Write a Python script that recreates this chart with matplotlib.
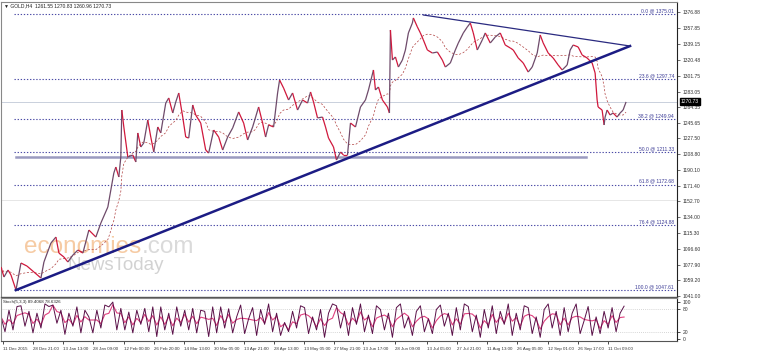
import numpy as np
import pandas as pd
import matplotlib
matplotlib.use("Agg")
import matplotlib.pyplot as plt
from matplotlib.collections import LineCollection

# ---------------- data ----------------
bars = [0, 3, 7, 10, 15, 20, 26, 33, 40, 43, 50, 55, 58, 63, 67, 72, 77, 82, 88, 95,
        100, 107, 110, 113, 115, 118, 120, 121, 123, 127, 132, 135, 137, 140, 143, 147, 150, 153, 157, 160,
        165, 168, 172, 175, 178, 182, 185, 188, 192, 195, 200, 205, 208, 213, 218, 222, 227, 232, 238, 243,
        247, 252, 255, 258, 262, 265, 268, 273, 277, 279, 283, 288, 292, 297, 302, 307, 310, 313, 317, 322,
        325, 328, 333, 336, 340, 343, 347, 350, 355, 360, 365, 368, 373, 375, 378, 382, 387, 389, 390, 392,
        395, 398, 402, 405, 408, 412, 413, 417, 420, 423, 427, 432, 437, 442, 445, 450, 455, 458, 463, 467,
        470, 473, 477, 482, 485, 490, 495, 500, 505, 510, 513, 518, 523, 528, 532, 537, 540, 543, 548, 553,
        558, 562, 567, 570, 573, 578, 582, 587, 592, 595, 597, 598, 602, 604, 605, 607, 610, 613, 617, 620,
        623, 626]
close = [1074.9, 1063.1, 1071.4, 1065.5, 1047.7, 1079.7, 1076.1, 1069.0, 1061.9, 1080.9,
         1103.4, 1110.5, 1091.5, 1086.8, 1080.9, 1089.2, 1095.1, 1091.5, 1118.8, 1110.5,
         1127.1, 1146.1, 1166.3, 1186.4, 1193.5, 1181.7, 1205.4, 1261.1, 1241.0, 1205.4,
         1207.8, 1199.5, 1233.9, 1217.3, 1222.0, 1249.3, 1229.1, 1211.3, 1241.0, 1234.0,
         1269.4, 1275.4, 1257.6, 1270.6, 1281.3, 1252.8, 1229.1, 1227.9, 1267.1, 1255.2,
         1245.7, 1213.7, 1210.1, 1237.4, 1229.1, 1213.7, 1229.1, 1239.8, 1258.8, 1245.7,
         1225.6, 1241.0, 1252.8, 1264.7, 1245.7, 1229.1, 1243.4, 1241.0, 1281.3, 1296.7,
         1287.2, 1273.0, 1281.3, 1261.1, 1273.0, 1269.4, 1282.5, 1270.6, 1251.7, 1252.8,
         1241.0, 1227.9, 1217.3, 1201.8, 1211.3, 1207.8, 1207.8, 1245.7, 1241.0, 1264.7,
         1273.0, 1284.9, 1308.6, 1284.9, 1288.4, 1273.0, 1264.7, 1257.6, 1356.0, 1320.4,
         1324.0, 1312.1, 1320.4, 1332.3, 1352.5, 1364.3, 1370.3, 1359.6, 1352.5, 1344.2,
         1332.3, 1328.7, 1329.9, 1320.4, 1312.1, 1316.9, 1332.3, 1340.6, 1352.5, 1359.6,
         1364.3, 1352.5, 1332.3, 1344.2, 1352.5, 1340.6, 1347.7, 1352.5, 1338.2, 1334.7,
         1332.3, 1322.8, 1316.9, 1306.2, 1312.1, 1328.7, 1350.1, 1340.6, 1328.7, 1322.8,
         1314.5, 1308.6, 1314.5, 1332.3, 1338.2, 1335.9, 1326.4, 1322.8, 1316.9, 1305.0,
         1273.0, 1264.7, 1261.1, 1243.4, 1252.8, 1261.1, 1255.2, 1257.6, 1252.8, 1257.6,
         1261.1, 1270.7]

stoch_bars = list(range(0, 625, 4))
stoch_main = [60, 20, 78, 25, 88, 90, 35, 75, 17, 70,
              30, 95, 88, 92, 43, 78, 13, 70, 35, 87,
              17, 78, 60, 17, 78, 30, 92, 87, 100, 25,
              83, 25, 73, 17, 78, 40, 83, 20, 87, 7,
              87, 25, 70, 13, 87, 35, 78, 25, 83, 17,
              78, 75, 7, 87, 17, 87, 30, 82, 17, 60,
              92, 15, 55, 85, 10, 80, 40, 95, 20, 70,
              10, 45, 20, 75, 30, 90, 85, 15, 60, 25,
              80, 5, 70, 95, 90, 30, 75, 10, 85, 40,
              95, 20, 65, 15, 90, 80, 25, 70, 5, 85,
              95, 30, 60, 10, 75, 90, 20, 55, 15, 80,
              92, 35, 70, 10, 85, 25, 95, 88, 20, 65,
              5, 80, 30, 90, 15, 75, 40, 95, 10, 70,
              25, 90, 85, 15, 60, 5, 80, 95, 30, 75,
              10, 85, 20, 70, 95, 15, 50, 88, 10, 60,
              15, 75, 30, 85, 20, 70, 89]

xtick_bars = [2, 32, 62, 92, 123, 153, 183, 213, 243, 273, 303, 333, 363, 395, 427,
              457, 487, 517, 548, 578, 608]
xtick_labels = ["11 Dec 2015", "28 Dec 21:00", "13 Jan 13:00", "28 Jan 09:00", "12 Feb 00:00",
                "26 Feb 20:00", "14 Mar 13:00", "30 Mar 05:00", "13 Apr 21:00", "28 Apr 13:00",
                "13 May 05:00", "27 May 21:00", "13 Jun 17:00", "28 Jun 09:00", "13 Jul 05:00",
                "27 Jul 21:00", "11 Aug 13:00", "26 Aug 05:00", "12 Sep 01:00", "26 Sep 17:00",
                "11 Oct 09:00"]
yticks = [1376.88, 1357.85, 1339.15, 1320.48, 1301.75, 1283.05, 1264.35, 1245.65, 1227.50,
          1208.80, 1190.10, 1171.40, 1152.70, 1134.00, 1115.30, 1096.60, 1077.90, 1059.20, 1041.00]
fib_ratios = ["0.0", "23.6", "38.2", "50.0", "61.8", "76.4", "100.0"]
fib_prices = [1375.01, 1297.74, 1249.94, 1211.33, 1172.68, 1124.88, 1047.61]
trend_x = [15, 630]
trend_y = [1047.61, 1337.0]
resist_x = [423, 630]
resist_y = [1373.8, 1337.0]
support_x = [15, 586]
support_price = 1205.4
last_price = 1270.73
title = "\u25bc GOLD,H4  1261.55 1270.83 1260.96 1270.73"
stoch_title = "Stoch(5,3,3) 89.4068 78.6326"

# ---------------- figure ----------------
W, H = 764, 355
fig = plt.figure(figsize=(W / 100, H / 100), dpi=100)
fig.patch.set_facecolor("white")
plt.rcParams["font.family"] = ["Liberation Sans", "DejaVu Sans"]

def fr(x0, y0, x1, y1):
    return [x0 / W, 1 - y1 / H, (x1 - x0) / W, (y1 - y0) / H]

ax = fig.add_axes(fr(1, 2, 677, 297))
ax2 = fig.add_axes(fr(1, 298, 677, 341))

XMAX = 677
YLO, YHI = 1039.4, 1389.2
ax.set_xlim(0, XMAX)
ax.set_ylim(YLO, YHI)

TXT = 3.6

# fib levels
for r, p in zip(fib_ratios, fib_prices):
    ax.plot([13, XMAX], [p, p], ls=(0, (1.2, 1.6)), color="#4b4ba6", lw=0.8, zorder=2)
    ax.text(674, p + 1.0, f"{r} @ {p:.2f}", ha="right", va="bottom", fontsize=TXT,
            color="#3c3c96", zorder=5)

# light horizontal lines
ax.axhline(last_price, color="#c9d0dc", lw=0.7, zorder=1)
ax.axhline(1154.0, color="#e6e6e6", lw=0.7, zorder=1)
ax.plot(support_x, [support_price, support_price], color="#9a9ac0", lw=1.8, zorder=2)

# watermark
ax.text(23, 1091.5, "economies", fontsize=17.5, color="#f6cba4", family="Liberation Sans",
        va="baseline", ha="left", zorder=1)
ax.text(141, 1091.5, ".com", fontsize=17.5, color="#dadada", family="Liberation Sans",
        va="baseline", ha="left", zorder=1)
ax.text(67, 1071.0, "NewsToday", fontsize=13.5, color="#d2d2d2", family="Liberation Sans",
        va="baseline", ha="left", zorder=1)

# price
xs = np.array(bars, dtype=float)
ys = np.array(close, dtype=float)
segs = np.stack([np.column_stack([xs[:-1], ys[:-1]]), np.column_stack([xs[1:], ys[1:]])], axis=1)
cols = ["#6e4a6a" if b > a else "#d0183c" for a, b in zip(ys[:-1], ys[1:])]
ax.add_collection(LineCollection(segs, colors=cols, linewidths=0.9, zorder=4))

ma = pd.Series(close).rolling(8, min_periods=1).mean()
ax.plot(xs, ma, color="#b04040", lw=0.5, ls=(0, (3, 2.5)), zorder=3)

# trend lines
ax.plot(trend_x, trend_y, color="#1c1c84", lw=1.8, zorder=6)
ax.plot(resist_x, resist_y, color="#2a2a80", lw=0.9, zorder=6)

# axes styling main
ax.yaxis.tick_right()
ax.set_yticks(yticks)
ax.set_yticklabels([f"{v:.2f}" for v in yticks], fontsize=TXT, color="#333333")
ax.tick_params(axis="y", length=2, width=0.5, pad=2, colors="#333333")
ax.set_xticks([])
for s in ["left", "top"]:
    ax.spines[s].set_color("#888888")
    ax.spines[s].set_linewidth(0.8)
ax.spines["right"].set_color("#222222")
ax.spines["right"].set_linewidth(0.8)
ax.spines["bottom"].set_color("#555555")
ax.spines["bottom"].set_linewidth(1.0)

ax.text(1.006, (last_price - YLO) / (YHI - YLO), f"{last_price:.2f}",
        transform=ax.transAxes, ha="left", va="center", fontsize=TXT, color="white",
        bbox=dict(boxstyle="square,pad=0.2", fc="black", ec="black"), zorder=10, clip_on=False)

# stochastic
ax2.set_xlim(0, XMAX)
ax2.set_ylim(-5, 111)
sig = pd.Series(stoch_main).rolling(3, min_periods=1).mean()
ax2.axhline(80, color="#c8c8c8", lw=0.6, ls=(0, (1, 1.5)))
ax2.axhline(20, color="#c8c8c8", lw=0.6, ls=(0, (1, 1.5)))
ax2.plot(stoch_bars, sig, color="#e0407f", lw=0.8)
ax2.plot(stoch_bars, stoch_main, color="#5a1048", lw=0.7)
ax2.yaxis.tick_right()
ax2.set_yticks([100, 80, 20, 0])
ax2.set_yticklabels(["100", "80", "20", "0"], fontsize=TXT, color="#333333")
ax2.tick_params(axis="y", length=2, width=0.5, pad=2)
ax2.set_xticks(xtick_bars)
ax2.set_xticklabels(xtick_labels, fontsize=3.2, color="#333333", ha="left")
ax2.tick_params(axis="x", length=2, width=0.5, pad=2)
for s in ["left", "top"]:
    ax2.spines[s].set_color("#888888")
    ax2.spines[s].set_linewidth(0.8)
ax2.spines["right"].set_color("#222222")
ax2.spines["right"].set_linewidth(0.8)
ax2.spines["bottom"].set_color("#555555")
ax2.spines["bottom"].set_linewidth(0.8)

fig.text(4 / W, 1 - 6 / H, title, fontsize=TXT, color="#222222", va="center", ha="left")
fig.text(3 / W, 1 - 302.5 / H, stoch_title, fontsize=3.2, color="#222222", va="center", ha="left")

fig.savefig("out.png", dpi=100, facecolor="white")
